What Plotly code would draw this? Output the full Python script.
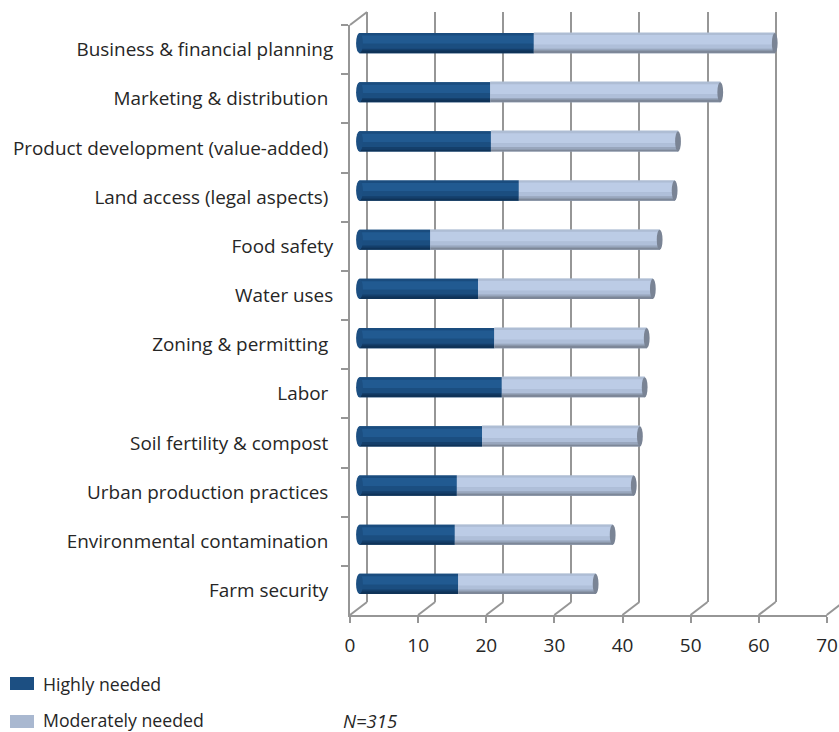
import plotly.graph_objects as go

categories = ["Business & financial planning", "Marketing & distribution\u00a0", "Product development (value-added)\u00a0",
              "Land access (legal aspects)\u00a0", "Food safety", "Water uses", "Zoning & permitting\u00a0",
              "Labor\u00a0", "Soil fertility & compost\u00a0", "Urban production practices\u00a0",
              "Environmental contamination\u00a0", "Farm security\u00a0"]
highly = [25.6, 19.2, 19.3, 23.4, 10.4, 17.4, 19.8, 20.9, 18.0, 14.3, 14.0, 14.5]
moderately = [35.4, 33.8, 27.5, 22.9, 33.7, 25.7, 22.4, 21.0, 23.2, 26.0, 23.2, 20.2]
x_ticks = [0, 10, 20, 30, 40, 50, 60, 70]
legend_labels = ["Highly needed", "Moderately needed"]

W, H = 839, 732
SCALE = 6.81  # px per unit
FONT = "Open Sans"
TXT = "#262626"
GRID = "#969696"
def px_x(v): return v / W
def px_y(v): return 1 - v / H

totals = [a + b for a, b in zip(highly, moderately)]
fig = go.Figure()

# back wall grid
fig.add_trace(go.Scatter(x=[0], y=[0], xaxis="x", yaxis="y", mode="markers", marker_opacity=0,
                         showlegend=False, hoverinfo="skip"))
# front axes
fig.add_trace(go.Scatter(x=[0] * len(categories), y=categories, xaxis="x2", yaxis="y2", mode="markers",
                         marker_opacity=0, showlegend=False, hoverinfo="skip"))

HALF = 0.205
bands_h = [(-HALF, 2 * HALF, "#1c4f82"), (-HALF, 0.05, "#1a4c7e"), (-0.155, 0.17, "#215a91"),
           (0.015, 0.1, "#1b4e80"), (0.115, 0.05, "#143f6b"), (0.165, 0.04, "#0f3358")]
bands_m = [(-HALF, 2 * HALF, "#a9b8d0"), (-HALF, 0.04, "#aebdd4"), (-0.165, 0.2, "#bccce6"),
           (0.035, 0.08, "#afbfd9"), (0.115, 0.05, "#98a6bd"), (0.165, 0.04, "#7d8798")]

for name, vals, base, bands in [(legend_labels[0], highly, [0] * len(highly), bands_h),
                                (legend_labels[1], moderately, highly, bands_m)]:
    for i, (off, wid, col) in enumerate(bands):
        fig.add_trace(go.Bar(y=categories, x=vals, base=base, orientation="h", xaxis="x3", yaxis="y3",
                             name=name, marker=dict(color=col, line_width=0), width=wid, offset=off,
                             showlegend=False, hoverinfo="skip" if i else None))

shapes = []
n = len(categories)
FLOOR, TOP = 615, 25
for t in x_ticks:
    fx = 350 + t * SCALE
    shapes.append(dict(type="line", xref="paper", yref="paper", x0=px_x(fx), x1=px_x(fx + 17),
                       y0=px_y(FLOOR), y1=px_y(FLOOR - 13), line=dict(color=GRID, width=2), layer="below"))
shapes.append(dict(type="line", xref="paper", yref="paper", x0=px_x(350), x1=px_x(367),
                   y0=px_y(TOP), y1=px_y(TOP - 13), line=dict(color=GRID, width=2), layer="below"))
for i, total in enumerate(totals):
    shapes.append(dict(type="circle", xref="x3", yref="y3", x0=-0.5, x1=0.5, y0=i - HALF, y1=i + HALF,
                       fillcolor="#1c4f82", line_width=0, layer="above"))
    shapes.append(dict(type="circle", xref="x3", yref="y3", x0=total - 0.45, x1=total + 0.4, y0=i - HALF, y1=i + HALF,
                       fillcolor="#7a8495", line_width=0, layer="above"))

annotations = [dict(text="<i>N=315</i>", xref="paper", yref="paper", x=px_x(343), y=px_y(720), xanchor="left",
                    yanchor="middle", showarrow=False, xshift=-2, font=dict(size=18.5, color=TXT))]
for label, col, (y0, y1), ty in zip(legend_labels, ["#1c4f82", "#a9b8d0"], [(677, 690), (715, 728)], [684, 719.5]):
    shapes.append(dict(type="rect", xref="paper", yref="paper", x0=px_x(10), x1=px_x(34), y0=px_y(y0), y1=px_y(y1),
                       fillcolor=col, line_width=0))
    annotations.append(dict(text=label, xref="paper", yref="paper", x=px_x(43), y=px_y(ty), xanchor="left",
                            yanchor="middle", showarrow=False, xshift=-2, font=dict(size=17.7, color=TXT)))

fig.update_layout(
    width=W, height=H, margin=dict(l=0, r=0, t=0, b=0, autoexpand=False), paper_bgcolor="white",
    plot_bgcolor="rgba(0,0,0,0)",
    barmode="overlay", font=dict(family=FONT, color=TXT), shapes=shapes, annotations=annotations, showlegend=False,
    xaxis=dict(domain=[px_x(367 - SCALE), 1], range=[-1, (W - 367) / SCALE], dtick=10, tick0=0, showgrid=True,
               gridcolor=GRID, gridwidth=2, zeroline=False, showticklabels=False, showline=False, anchor="y"),
    yaxis=dict(domain=[px_y(602), px_y(12)], range=[0, 1], showgrid=False, zeroline=False, showticklabels=False,
               anchor="x"),
    xaxis2=dict(domain=[px_x(350), px_x(827)], range=[0, 70], tickvals=x_ticks, ticks="outside", ticklen=6,
                tickcolor=GRID, tickwidth=2, showgrid=False, zeroline=False, showline=True, linecolor=GRID,
                linewidth=2, tickfont=dict(size=19, color=TXT), ticklabelstandoff=6, anchor="y2"),
    yaxis2=dict(domain=[px_y(FLOOR), px_y(TOP)], type="category", categoryorder="array", categoryarray=categories,
                autorange=False, range=[n - 0.5, -0.5], tickson="boundaries", ticks="outside", ticklen=7,
                tickcolor=GRID, tickwidth=1.5, showgrid=False, zeroline=False, showline=True, linecolor=GRID,
                linewidth=2, tickfont=dict(size=18.9, color=TXT), ticklabelstandoff=11, anchor="x2"),
    xaxis3=dict(domain=[px_x(359.5 - SCALE), 1], range=[-1, (W - 359.5) / SCALE], visible=False, anchor="y3"),
    yaxis3=dict(domain=[px_y(FLOOR - 6.5), px_y(TOP - 6.5)], type="category", categoryorder="array", categoryarray=categories,
                autorange=False, range=[n - 0.5, -0.5], visible=False, anchor="x3"),
)
fig.write_html("out.html", post_script="document.body.style.margin='0';", config=dict(displayModeBar=False))
